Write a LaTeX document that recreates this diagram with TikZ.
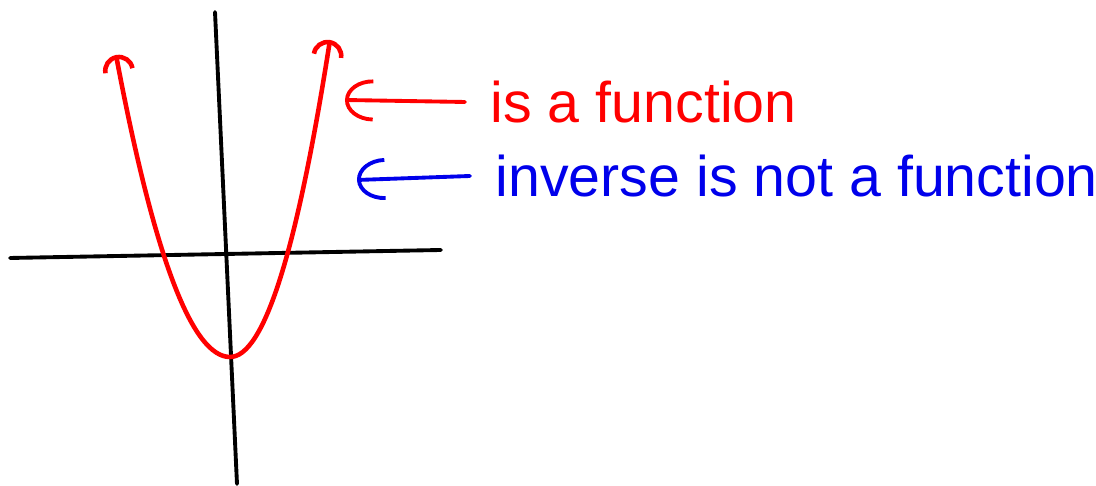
\documentclass[tikz,border=0pt]{standalone}
\usepackage{fontspec}
\setmainfont{Liberation Sans}
\usepackage{xcolor}
\usetikzlibrary{arrows.meta,positioning}
\definecolor{penred}{RGB}{255,0,0}
\definecolor{penblue}{RGB}{0,0,235}
\tikzstyle{axis}=[line width=1.1pt, black, line cap=round]
\tikzstyle{curve}=[line width=1.3pt, penred, line cap=round,
  {Arc Barb[length=1.6mm,width=3.2mm]}-{Arc Barb[length=1.6mm,width=3.2mm]}]
\tikzstyle{pointer}=[line width=1.1pt, line cap=round,
  -{Arc Barb[length=2.8mm,width=4.2mm]}]
\tikzstyle{label}=[anchor=west, inner xsep=0.25cm, inner ysep=0pt,
  font=\fontsize{16.3}{19}\selectfont]

\begin{document}
\begin{tikzpicture}[x=0.01cm, y=-0.01cm]
    \useasboundingbox (0,0) rectangle (1096,486);

    % axes
    \coordinate (xl) at (10,258);
    \coordinate (xr) at (441,250);
    \coordinate (yt) at (215,12);
    \coordinate (yb) at (237,484);
    \draw[axis] (xl) -- (xr);
    \draw[axis] (yt) -- (yb);

    % parabola, open at both ends
    \coordinate (ltip) at (116,55);
    \coordinate (vtx) at (230,357);
    \coordinate (rtip) at (330,40);
    \draw[curve] (ltip) .. controls (154,256) and (192,357) .. (vtx)
      .. controls (264,357) and (297,251) .. (rtip);

    % labels with pointers back to the curve
    \node[label, text=penred] (fnlabel) at (465,102) {is a function};
    \node[label, text=penblue] (invlabel) at (470,176) {inverse is not a function};
    \coordinate (redtip) at (345,100);
    \coordinate (bluetip) at (357,180);
    \draw[pointer, penred] (fnlabel.west) -- (redtip);
    \draw[pointer, penblue] (invlabel.west) -- (bluetip);

\end{tikzpicture}
\end{document}
